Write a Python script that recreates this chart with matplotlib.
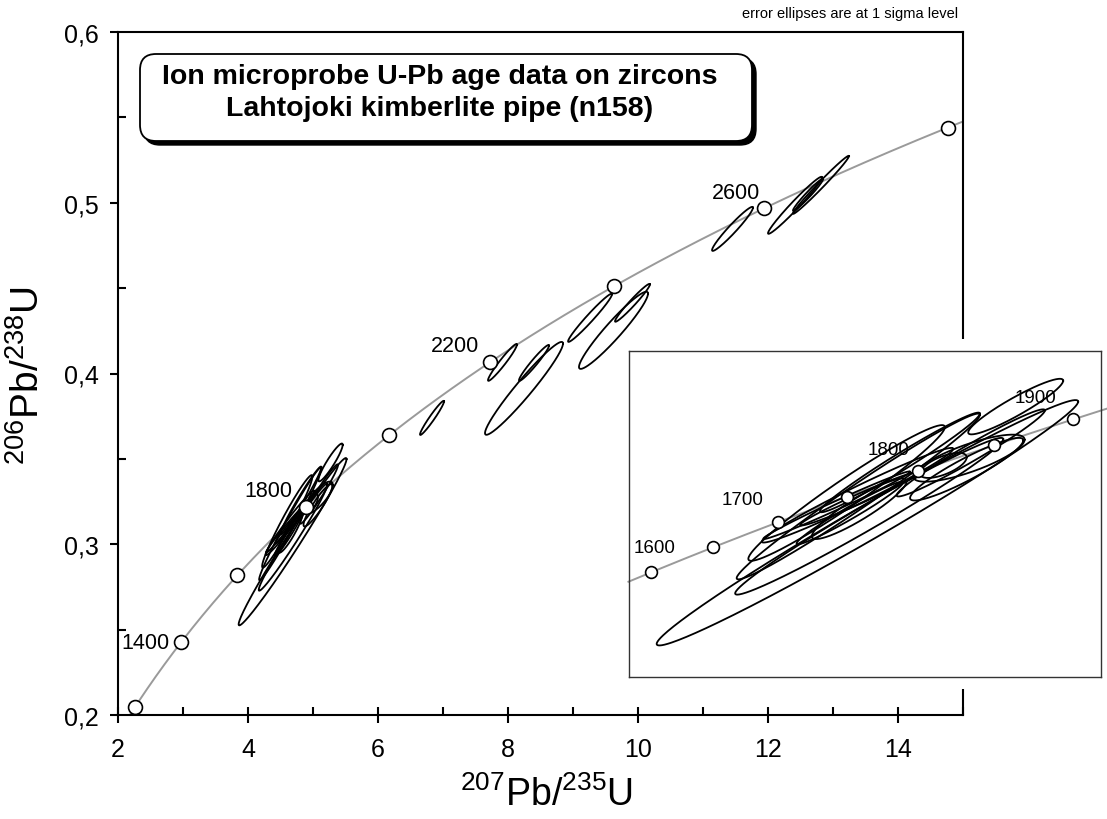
import numpy as np
import matplotlib
matplotlib.use("Agg")
import matplotlib.pyplot as plt
from matplotlib.patches import FancyBboxPatch, Rectangle
from matplotlib.ticker import MultipleLocator, FuncFormatter

plt.rcParams['font.family'] = ['Liberation Sans', 'DejaVu Sans']
plt.rcParams['mathtext.fontset'] = 'custom'
plt.rcParams['mathtext.rm'] = 'Liberation Sans'
plt.rcParams['mathtext.it'] = 'Liberation Sans:italic'
plt.rcParams['mathtext.bf'] = 'Liberation Sans:bold'

# decay constants (1/Ma) used for the concordia curve
lam238 = 1.55125e-4
lam235 = 9.8485e-4

# concordia age marks (Ma)
main_ages = [1200, 1400, 1600, 1800, 2000, 2200, 2400, 2600, 2800]
main_labels = [1400, 1800, 2200, 2600]
inset_ages = [1600, 1650, 1700, 1750, 1800, 1850, 1900]
inset_labels = [1600, 1700, 1800, 1900]

# error ellipses: 207Pb/235U, 1s, 206Pb/238U, 1s, rho
ell_x = [4.686, 4.693, 4.650, 4.604, 4.647, 4.617, 4.654, 5.077, 4.985, 5.086,
         5.270, 4.565, 4.657, 4.814, 5.093,
         6.831, 7.915, 8.246, 8.400, 9.262, 9.623, 9.915, 11.454, 12.415, 12.815, 12.615]
ell_sx = [0.830, 0.528, 0.479, 0.387, 0.377, 0.210, 0.187, 0.223, 0.092, 0.219,
          0.187, 0.289, 0.236, 0.315, 0.292,
          0.185, 0.223, 0.600, 0.231, 0.338, 0.531, 0.269, 0.315, 0.415, 0.431, 0.231]
ell_y = [0.3015, 0.3041, 0.3120, 0.3134, 0.3125, 0.3054, 0.3071, 0.3229, 0.3244, 0.3273,
         0.3479, 0.3085, 0.3112, 0.3256, 0.3294,
         0.3740, 0.4065, 0.3913, 0.4062, 0.4326, 0.4253, 0.4414, 0.4847, 0.4985, 0.5105, 0.5046]
ell_sy = [0.0490, 0.0313, 0.0331, 0.0271, 0.0189, 0.0125, 0.0121, 0.0125, 0.0050, 0.0094,
          0.0111, 0.0135, 0.0108, 0.0199, 0.0174,
          0.0100, 0.0108, 0.0272, 0.0105, 0.0141, 0.0226, 0.0111, 0.0129, 0.0167, 0.0170, 0.0094]
ell_rho = [0.987, 0.984, 0.985, 0.970, 0.980, 0.975, 0.910, 0.920, 0.645, 0.785,
           0.930, 0.990, 0.980, 0.980, 0.975,
           0.967, 0.965, 0.963, 0.966, 0.976, 0.950, 0.973, 0.964, 0.979, 0.989, 0.974]

# label offsets in points (layout only)
main_offsets = {1400: (-8.5, 0), 1800: (-9.5, 11.5), 2200: (-8, 12), 2600: (-3, 11)}
inset_offsets = {1600: (2.5, 18), 1700: (-26, 16.5), 1800: (-21.5, 15.5), 1900: (-27, 16)}


def concordia(t):
    return np.exp(lam235 * np.asarray(t)) - 1, np.exp(lam238 * np.asarray(t)) - 1


def ellipse_xy(x, sx, y, sy, r, n=240):
    t = np.linspace(0, 2 * np.pi, n)
    return x + sx * np.cos(t), y + sy * (r * np.cos(t) + np.sqrt(1 - r * r) * np.sin(t))


fig = plt.figure(figsize=(11.07, 8.2), dpi=100)
ax = fig.add_axes([118 / 1107, 1 - 716 / 820, 845 / 1107, 683 / 820])

cx, cy = concordia(np.linspace(1100, 2950, 400))
ax.plot(cx, cy, color='#9a9a9a', lw=1.4, zorder=1)

for i in range(len(ell_x)):
    ex, ey = ellipse_xy(ell_x[i], ell_sx[i], ell_y[i], ell_sy[i], ell_rho[i])
    ax.plot(ex, ey, color='black', lw=1.3, zorder=2)

mx, my = concordia(main_ages)
ax.plot(mx, my, 'o', ms=10, mfc='white', mec='black', mew=1.2, zorder=3)
for a in main_labels:
    px, py = concordia(a)
    ax.annotate(str(a), (px, py), xytext=main_offsets[a], textcoords='offset points',
                ha='right', va='center', fontsize=15.5, zorder=4)

ax.set_xlim(2, 15)
ax.set_ylim(0.2, 0.6)
ax.xaxis.set_major_locator(MultipleLocator(2))
ax.xaxis.set_minor_locator(MultipleLocator(1))
ax.yaxis.set_major_locator(MultipleLocator(0.1))
ax.yaxis.set_minor_locator(MultipleLocator(0.05))
ax.yaxis.set_major_formatter(FuncFormatter(lambda v, p: ('%.1f' % v).replace('.', ',')))
ax.tick_params(axis='x', which='major', direction='inout', length=12, width=1.5,
               labelsize=18, pad=10)
ax.tick_params(axis='x', which='minor', direction='in', length=6, width=1.5)
ax.tick_params(axis='y', which='major', direction='out', length=6, width=1.5,
               labelsize=18, pad=8)
ax.tick_params(axis='y', which='minor', direction='in', length=6, width=1.5)
for s in ax.spines.values():
    s.set_linewidth(1.5)
    s.set_color('black')

fig.text(546 / 1107, 1 - 795 / 820, r'$^{207}$Pb/$^{235}$U', ha='center', va='center', fontsize=27)
fig.text(28 / 1107, 1 - 375 / 820, r'$^{206}$Pb/$^{238}$U', ha='center', va='center',
         fontsize=28, rotation=90)

# white area behind the inset
fig.patches.append(Rectangle((620 / 1107, 1 - 690 / 820), 487 / 1107, 350 / 820,
                             transform=fig.transFigure, facecolor='white',
                             edgecolor='none', zorder=1))

axin = fig.add_axes([629 / 1107, 1 - 678 / 820, 472 / 1107, 326 / 820], zorder=2)
axin.set_xlim(3.747, 5.606)
axin.set_ylim(0.2399, 0.3701)
axin.set_xticks([])
axin.set_yticks([])
for s in axin.spines.values():
    s.set_linewidth(1.0)
    s.set_color('#333333')

ix, iy = concordia(np.linspace(1581, 1921, 200))
axin.plot(ix, iy, color='#9a9a9a', lw=1.4, zorder=1, clip_on=False)
for i in range(len(ell_x)):
    ex, ey = ellipse_xy(ell_x[i], ell_sx[i], ell_y[i], ell_sy[i], ell_rho[i])
    axin.plot(ex, ey, color='black', lw=1.3, zorder=2)
qx, qy = concordia(inset_ages)
axin.plot(qx, qy, 'o', ms=8.5, mfc='white', mec='black', mew=1.2, zorder=3)
for a in inset_labels:
    px, py = concordia(a)
    axin.annotate(str(a), (px, py), xytext=inset_offsets[a], textcoords='offset points',
                  ha='center', va='center', fontsize=13.5, zorder=4)

# title box with drop shadow
tr = fig.dpi_scale_trans
shadow = FancyBboxPatch((1.44, 6.74), 6.12, 0.87, boxstyle='round,pad=0,rounding_size=0.16',
                        transform=tr, facecolor='black', edgecolor='black', zorder=3)
box = FancyBboxPatch((1.40, 6.78), 6.12, 0.87, boxstyle='round,pad=0,rounding_size=0.16',
                     transform=tr, facecolor='white', edgecolor='black', lw=1.3, zorder=4)
fig.patches.extend([shadow, box])
fig.text(440 / 1107, 1 - 77 / 820, 'Ion microprobe U-Pb age data on zircons',
         ha='center', va='center', fontsize=20.5, fontweight='bold', zorder=5)
fig.text(440 / 1107, 1 - 109 / 820, 'Lahtojoki kimberlite pipe (n158)',
         ha='center', va='center', fontsize=20.5, fontweight='bold', zorder=5)

fig.text(958 / 1107, 1 - 14 / 820, 'error ellipses are at 1 sigma level', ha='right',
         va='center', fontsize=10.5)

fig.savefig('out.png', dpi=100)
